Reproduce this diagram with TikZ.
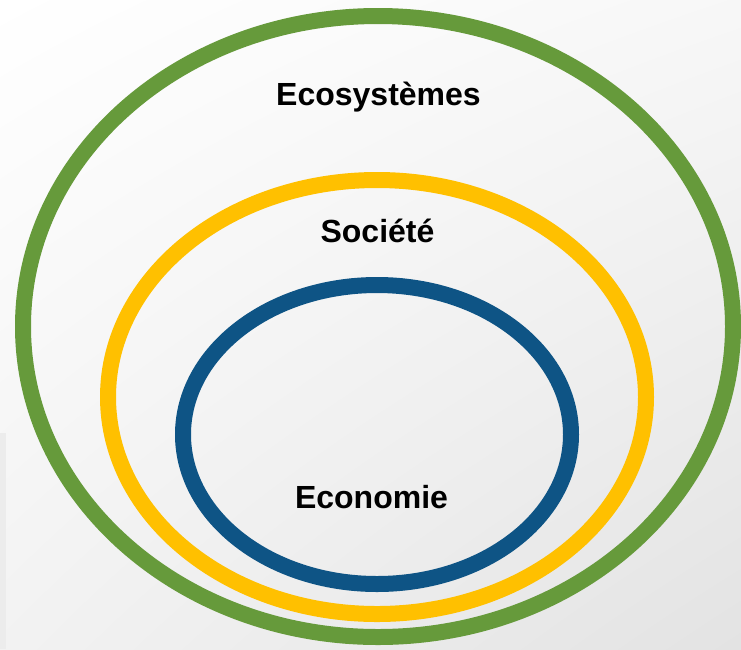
\documentclass[tikz,border=0pt]{standalone}
\usepackage{fontspec}
\setmainfont{Liberation Sans}
\usepackage{tikz}
\usetikzlibrary{shapes.geometric,shadings}
\definecolor{ecogreen}{RGB}{102,154,59}
\definecolor{socyellow}{RGB}{255,192,0}
\definecolor{econblue}{RGB}{14,84,133}

\begin{document}
\begin{tikzpicture}[x=1pt,y=-1pt,
                    ring/.style={draw,ellipse,line width=16pt,inner sep=0pt,outer sep=0pt},
                    sphere/.style={font=\fontsize{32}{36}\selectfont\bfseries,anchor=base,inner sep=0pt}]
\useasboundingbox (0,0) rectangle (741,649);
\shade[upper left=white,upper right=gray!6,lower left=gray!10,lower right=gray!22] (0,0) rectangle (741,649);
\fill[gray!15] (0,433) rectangle (6,649);
\node[ring,draw=ecogreen,minimum width=710pt,minimum height=621pt] (eco) at (378,326.5) {};
\node[ring,draw=socyellow,minimum width=538pt,minimum height=434pt] (soc) at (377,397) {};
\node[ring,draw=econblue,minimum width=388pt,minimum height=299pt] (econ) at (377,434.5) {};
\node[sphere] (ecolabel) at (378.5,105) {Ecosystèmes};
\node[sphere] (soclabel) at (377.5,242) {Société};
\node[sphere] (econlabel) at (371.5,508) {Economie};
\end{tikzpicture}
\end{document}
